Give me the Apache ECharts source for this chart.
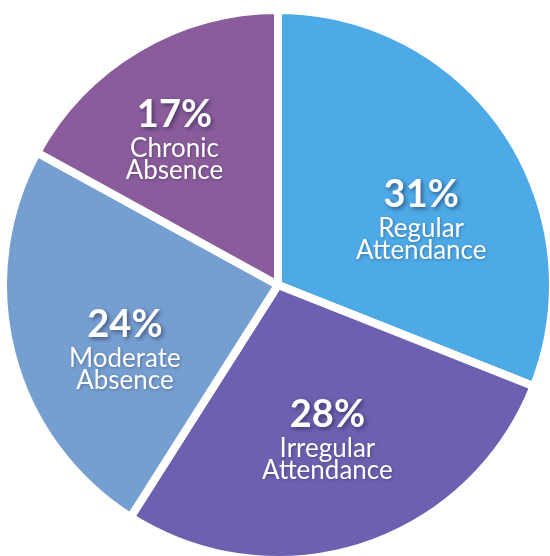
<!DOCTYPE html>
<html lang="en">
<head>
    <meta charset="UTF-8">
    <title>Attendance pie</title>
    <script src="https://cdn.jsdelivr.net/npm/echarts@6/dist/echarts.min.js"></script>
    <style>
        html, body { margin: 0; padding: 0; background: #ffffff; }
        #chart { width: 550px; height: 556px; }
    </style>
</head>
<body>
<div id="chart"></div>
<script>
    // data
    var categories = ['Regular\nAttendance', 'Irregular\nAttendance', 'Moderate\nAbsence', 'Chronic\nAbsence'];
    var values = [31, 28, 24, 17];

    var colors = ['#4DAAE7', '#6C61B0', '#769FD1', '#8A5C9B'];
    // nudge each label from the default inside spot
    var labelOffsets = [[27, 11], [6, 18], [-17, 27], [-32, -27]];

    var chart = echarts.init(document.getElementById('chart'));

    var seriesData = values.map(function (v, i) {
        return {
            name: categories[i],
            value: v,
            itemStyle: { color: colors[i] },
            label: { offset: labelOffsets[i] }
        };
    });

    var shadow = {
        textShadowColor: 'rgba(25, 25, 60, 0.55)',
        textShadowBlur: 4,
        textShadowOffsetX: 2,
        textShadowOffsetY: 2
    };

    chart.setOption({
        animation: false,
        series: [{
            type: 'pie',
            center: [278, 285],
            radius: [0, 275],
            startAngle: 90,
            clockwise: true,
            silent: true,
            itemStyle: {
                borderColor: '#ffffff',
                borderWidth: 8
            },
            label: {
                show: true,
                position: 'inside',
                formatter: function (p) {
                    var lines = p.name.split('\n').map(function (s) { return '{n|' + s + '}'; });
                    return '{p|' + p.value + '%}\n' + lines.join('\n');
                },
                rich: {
                    p: Object.assign({
                        color: '#ffffff',
                        fontFamily: 'Lato',
                        fontWeight: 'bold',
                        fontSize: 38,
                        lineHeight: 46,
                        align: 'center'
                    }, shadow),
                    n: Object.assign({
                        color: '#ffffff',
                        fontFamily: 'Lato',
                        fontSize: 26,
                        lineHeight: 22,
                        align: 'center'
                    }, shadow, { textShadowBlur: 3, textShadowOffsetX: 1, textShadowOffsetY: 1, textShadowColor: 'rgba(25,25,60,0.35)' })
                }
            },
            labelLine: { show: false },
            data: seriesData
        }]
    });
</script>
</body>
</html>
